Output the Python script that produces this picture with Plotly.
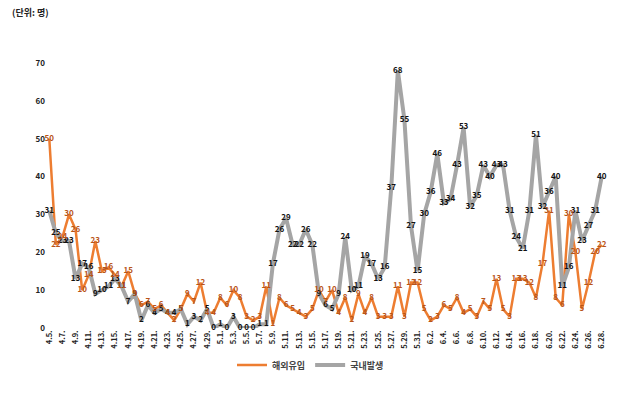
import plotly.graph_objects as go

# Dates 4.5. ~ 6.28.
dates = ([f"4.{d}." for d in range(5, 31)] +
         [f"5.{d}." for d in range(1, 32)] +
         [f"6.{d}." for d in range(1, 29)])

imported = [50, 22, 24, 30, 26, 10, 14, 23, 15, 16, 14, 11, 15, 9, 6, 7, 5, 6, 4, 2, 5, 9, 7, 12, 4, 4,
            8, 6, 10, 8, 3, 2, 3, 11, 1, 8, 6, 5, 4, 3, 5, 10, 7, 10, 4, 8, 2, 9, 4, 8, 3, 3, 3, 11, 3, 12, 12,
            5, 2, 3, 6, 5, 8, 4, 5, 3, 7, 5, 13, 5, 3, 13, 13, 12, 8, 17, 31, 8, 6, 30, 20, 5, 12, 20, 22]

domestic = [31, 25, 23, 23, 13, 17, 16, 9, 10, 11, 13, 11, 7, 9, 2, 6, 4, 5, 4, 4, 5, 1, 3, 2, 5, 0,
            1, 0, 3, 0, 0, 0, 1, 1, 17, 26, 29, 22, 22, 26, 22, 9, 6, 5, 9, 24, 10, 11, 19, 17, 13, 16, 37, 68, 55, 27, 15,
            30, 36, 46, 33, 34, 43, 53, 32, 35, 43, 40, 43, 43, 31, 24, 21, 31, 51, 32, 36, 40, 11, 16, 31, 23, 27, 31, 40]

series_names = ["해외유입", "국내발생"]
tick_labels = dates[::2]
y_ticks = [0, 10, 20, 30, 40, 50, 60, 70]

FONT = "Noto Sans CJK KR"
ORANGE = "#ED7D31"
GRAY = "#A5A5A5"

fig = go.Figure()

fig.add_trace(go.Scatter(x=dates, y=imported, mode="lines", name=series_names[0],
                         line=dict(color=ORANGE, width=2.5), cliponaxis=False))
fig.add_trace(go.Scatter(x=dates, y=domestic, mode="lines", name=series_names[1],
                         line=dict(color=GRAY, width=4), cliponaxis=False))

fig.add_trace(go.Scatter(x=dates, y=domestic, mode="text", text=[str(v) for v in domestic],
                         textposition="middle center", showlegend=False, cliponaxis=False,
                         textfont=dict(family=FONT, size=8, color="#111111", weight="bold"),
                         hoverinfo="skip"))
fig.add_trace(go.Scatter(x=dates, y=imported, mode="text", text=[str(v) for v in imported],
                         textposition="middle center", showlegend=False, cliponaxis=False,
                         textfont=dict(family=FONT, size=8, color="#B85418", weight="bold"),
                         hoverinfo="skip"))

fig.update_layout(
    width=621, height=393,
    margin=dict(l=46, r=16, t=63, b=65, autoexpand=False),
    paper_bgcolor="white", plot_bgcolor="white",
    font=dict(family=FONT, size=8, color="#222222"),
    title=dict(text="<b>(단위: 명)</b>", x=12 / 621, xanchor="left", xref="container",
               y=1 - 13 / 393, yanchor="middle", font=dict(family=FONT, size=9, color="#222222")),
    showlegend=True,
    legend=dict(orientation="h", x=0.5, xanchor="center", xref="container",
                y=28 / 393, yref="container", yanchor="middle",
                font=dict(family=FONT, size=9, color="#444444", weight="bold"),
                bgcolor="rgba(0,0,0,0)", itemwidth=30),
)

fig.update_xaxes(type="category", tickmode="array", tickvals=tick_labels, ticktext=tick_labels,
                 tickangle=-90, showgrid=False, showline=False, zeroline=False, ticks="",
                 range=[-0.5, len(dates) - 0.5], automargin=False,
                 tickfont=dict(family=FONT, size=7.5, color="#222222", weight="bold"))
fig.update_yaxes(range=[0, 70], tickvals=y_ticks, showgrid=False, showline=False, zeroline=False,
                 ticks="", automargin=False,
                 tickfont=dict(family=FONT, size=8, color="#222222", weight="bold"))

fig.write_html("out.html", config={"displayModeBar": False},
               post_script="document.body.style.margin='0';document.body.style.overflow='hidden';")
